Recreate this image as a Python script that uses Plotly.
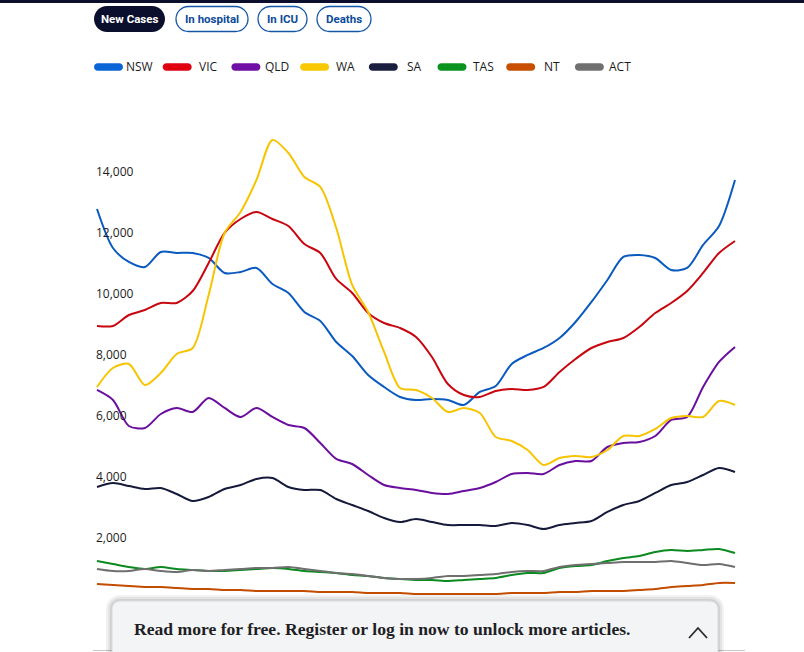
import plotly.graph_objects as go

# ---------------- data ----------------
period = list(range(41))
states = ["NSW", "VIC", "QLD", "WA", "SA", "TAS", "NT", "ACT"]

nsw = [12788, 11509, 11050, 10886, 11378, 11345, 11345, 11181, 10690, 10722,
       10853, 10329, 10034, 9411, 9116, 8427, 7968, 7345, 6951, 6624,
       6525, 6558, 6525, 6361, 6788, 6984, 7706, 8001, 8230, 8558,
       9083, 9739, 10460, 11214, 11280, 11181, 10788, 10853, 11608, 12231, 13739]
vic = [8952, 8952, 9312, 9476, 9706, 9706, 10099, 11017, 12001, 12460,
       12690, 12460, 12231, 11640, 11345, 10493, 10034, 9378, 9050, 8886,
       8591, 7935, 7050, 6689, 6624, 6820, 6886, 6853, 6952, 7443,
       7870, 8230, 8427, 8558, 8919, 9378, 9706, 10099, 10690, 11345, 11739]
qld = [6853, 6525, 5673, 5607, 6066, 6263, 6132, 6591, 6263, 5968,
       6263, 5968, 5705, 5607, 5115, 4591, 4427, 4066, 3738, 3640,
       3574, 3476, 3443, 3541, 3640, 3836, 4099, 4132, 4099, 4394,
       4525, 4525, 4984, 5115, 5148, 5345, 5870, 5968, 6951, 7771, 8263]
wa = [6951, 7574, 7706, 7017, 7411, 8034, 8230, 9968, 12001, 12690,
      13739, 15051, 14624, 13837, 13509, 12165, 10296, 9411, 8099, 6919,
      6853, 6591, 6132, 6263, 6099, 5312, 5181, 4886, 4394, 4623,
      4689, 4656, 4886, 5345, 5345, 5574, 5935, 6001, 5968, 6492, 6361]
sa = [3672, 3804, 3705, 3607, 3640, 3443, 3213, 3345, 3607, 3738,
      3935, 3968, 3672, 3574, 3574, 3279, 3082, 2886, 2656, 2525,
      2623, 2525, 2427, 2427, 2427, 2394, 2492, 2427, 2295, 2427,
      2492, 2558, 2853, 3082, 3213, 3476, 3738, 3836, 4066, 4296, 4164]
tas = [1246, 1148, 1049, 984, 1049, 984, 951, 918, 918, 951,
       984, 1016, 984, 918, 885, 853, 787, 754, 689, 656,
       623, 623, 590, 623, 656, 689, 787, 853, 853, 1016,
       1082, 1115, 1246, 1344, 1410, 1541, 1607, 1574, 1607, 1640, 1508]
nt = [492, 459, 426, 393, 393, 361, 328, 328, 295, 295,
      262, 262, 262, 262, 230, 230, 230, 197, 197, 197,
      164, 164, 164, 164, 164, 164, 197, 197, 197, 230,
      230, 262, 262, 262, 295, 328, 393, 426, 459, 525, 525]
act = [984, 918, 918, 984, 918, 885, 951, 918, 951, 984,
       1016, 1016, 1049, 984, 918, 853, 820, 754, 689, 656,
       656, 689, 754, 754, 787, 820, 885, 918, 918, 1049,
       1115, 1148, 1180, 1213, 1213, 1213, 1246, 1180, 1115, 1148, 1049]

series = [nsw, vic, qld, wa, sa, tas, nt, act]
line_colors = ["#0a5ac0", "#c8060f", "#6a0e9e", "#f6c400",
               "#151a3a", "#0a8a1f", "#c24c00", "#6f6f6f"]
pill_colors = ["#0a66d6", "#e00010", "#6f0fa6", "#f8c800",
               "#1a1f40", "#0b931f", "#c84e00", "#707070"]

y_ticks = [2000, 4000, 6000, 8000, 10000, 12000, 14000]
tabs = ["New Cases", "In hospital", "In ICU", "Deaths"]

# ---------------- layout geometry (pixels) ----------------
W, H = 804, 652
ML, MR, MT, MB = 93, 59, 120, 2
PW, PH = W - ML - MR, H - MT - MB


def px(x):
    return (x - ML) / PW


def py(y):
    return (H - MB - y) / PH


def rr_path(x0, y0, x1, y1, r):
    k = 0.5523 * r
    pts = [
        ("M", [(x0 + r, y0)]),
        ("L", [(x1 - r, y0)]),
        ("C", [(x1 - r + k, y0), (x1, y0 + r - k), (x1, y0 + r)]),
        ("L", [(x1, y1 - r)]),
        ("C", [(x1, y1 - r + k), (x1 - r + k, y1), (x1 - r, y1)]),
        ("L", [(x0 + r, y1)]),
        ("C", [(x0 + r - k, y1), (x0, y1 - r + k), (x0, y1 - r)]),
        ("L", [(x0, y0 + r)]),
        ("C", [(x0, y0 + r - k), (x0 + r - k, y0), (x0 + r, y0)]),
    ]
    s = ""
    for cmd, ps in pts:
        s += cmd + " ".join(f"{px(a):.5f},{py(b):.5f}" for a, b in ps) + " "
    return s + "Z"


fig = go.Figure()
for name, vals, col in zip(states, series, line_colors):
    fig.add_trace(go.Scatter(
        x=period, y=vals, name=name, mode="lines",
        line=dict(color=col, width=2, shape="spline", smoothing=0.8),
        showlegend=False, hoverinfo="skip"))

# y range from pixel mapping: 2000 per 61px, zero at y=599
vpp = 2000 / 61
y_min = (599 - (H - MB)) * vpp
y_max = (599 - MT) * vpp
xpp = 638 / 40
x_min = -(97 - ML) / xpp
x_max = 40 + (W - MR - 735) / xpp

shapes = []
annotations = []

# top dark header line
shapes.append(dict(type="rect", xref="paper", yref="paper",
                   x0=px(0), x1=px(W), y0=py(0), y1=py(3),
                   fillcolor="#0b0f2c", line=dict(width=0), layer="above"))

# tab buttons
tab_boxes = [(94, 165), (176, 248), (258, 307), (317, 371)]
for i, (label, (a, b)) in enumerate(zip(tabs, tab_boxes)):
    if i == 0:
        shapes.append(dict(type="path", xref="paper", yref="paper",
                           path=rr_path(a, 6, b, 32, 13),
                           fillcolor="#0b0f2e", line=dict(width=0)))
        col = "#ffffff"
    else:
        shapes.append(dict(type="path", xref="paper", yref="paper",
                           path=rr_path(a, 6.5, b, 31.5, 12.5),
                           fillcolor="#ffffff", line=dict(color="#1456a6", width=1.3)))
        col = "#0c4a9a"
    annotations.append(dict(x=px((a + b) / 2), y=py(19), xref="paper", yref="paper",
                            text=f"<b>{label}</b>", showarrow=False,
                            xanchor="center", yanchor="middle",
                            font=dict(family="Roboto", size=11.5, color=col)))

# custom legend pills
for i, (name, col) in enumerate(zip(states, pill_colors)):
    x0 = 94 + i * 68.7
    shapes.append(dict(type="path", xref="paper", yref="paper",
                       path=rr_path(x0, 63.2, x0 + 29, 70.8, 3.8),
                       fillcolor=col, line=dict(width=0)))
    annotations.append(dict(x=px(x0 + 45.5), y=py(67), xref="paper", yref="paper",
                            text=name, showarrow=False, xanchor="center", yanchor="middle",
                            font=dict(family="Open Sans", size=12, color="#1c1c1c")))

# bottom "read more" banner with soft shadow
for d, op in [(6, 0.05), (4, 0.06), (2, 0.08)]:
    shapes.append(dict(type="path", xref="paper", yref="paper",
                       path=rr_path(112 - d, 601 - d, 718 + d, 660 + d, 8 + d),
                       fillcolor=f"rgba(0,0,0,{op})", line=dict(width=0), layer="above"))
shapes.append(dict(type="path", xref="paper", yref="paper",
                   path=rr_path(112, 601, 718, 662, 8),
                   fillcolor="#f3f4f6", line=dict(color="#d9dadd", width=1), layer="above"))
# chevron
shapes.append(dict(type="path", xref="paper", yref="paper",
                   path=f"M{px(689):.5f},{py(638):.5f} L{px(698):.5f},{py(628):.5f} L{px(707):.5f},{py(638):.5f}",
                   line=dict(color="#2a2a2a", width=1.8), layer="above"))
annotations.append(dict(x=px(132), y=py(629), xref="paper", yref="paper",
                        text="<b>Read more for free. Register or log in now to unlock more articles.</b>",
                        showarrow=False, xanchor="left", yanchor="middle",
                        font=dict(family="Liberation Serif", size=17.6, color="#1e1e24")))

fig.update_layout(
    width=W, height=H,
    margin=dict(l=ML, r=MR, t=MT, b=MB, pad=0),
    paper_bgcolor="#ffffff", plot_bgcolor="#ffffff",
    shapes=shapes, annotations=annotations,
    xaxis=dict(range=[x_min, x_max], showgrid=False, zeroline=False,
               showticklabels=False, ticks="", showline=True,
               linecolor="#c8c8c8", linewidth=1, fixedrange=True),
    yaxis=dict(range=[y_min, y_max], showgrid=False, zeroline=False,
               tickvals=y_ticks, ticktext=[f"{v:,}" for v in y_ticks],
               ticklabelposition="inside", ticks="", showline=False,
               tickfont=dict(family="Open Sans", size=12, color="#1c1c1c"),
               fixedrange=True),
    font=dict(family="Open Sans"),
)

fig.write_html("out.html",
               config={"displayModeBar": False},
               post_script="document.body.style.margin='0';document.body.style.overflow='hidden';")
